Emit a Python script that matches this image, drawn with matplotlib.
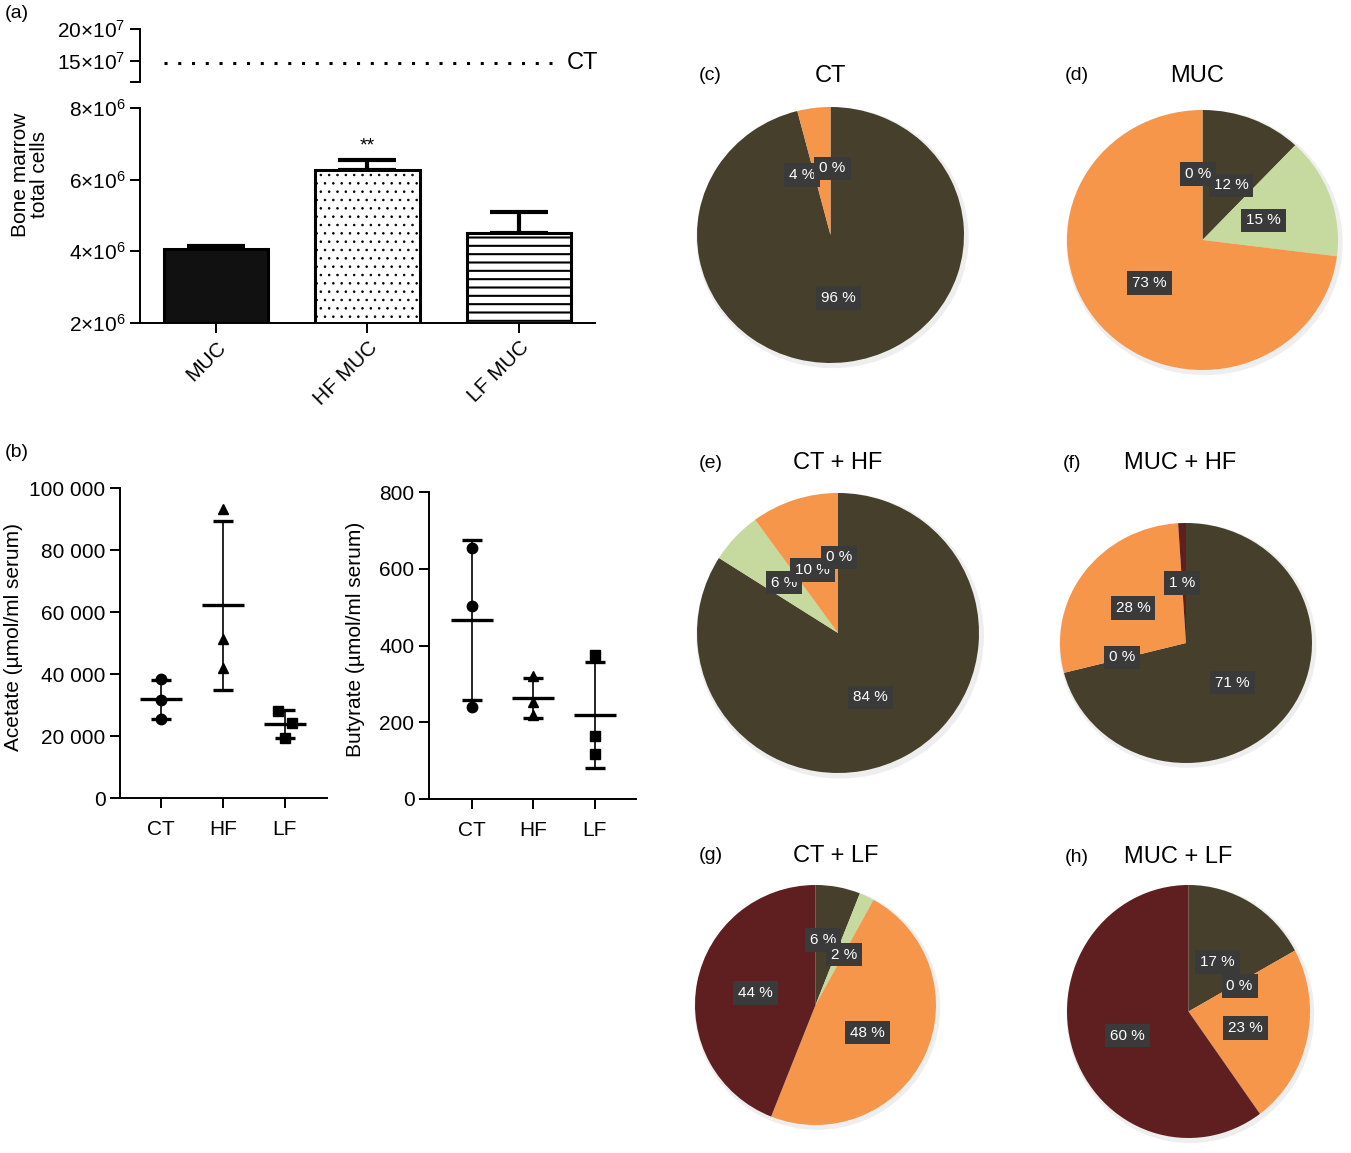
import numpy as np
import matplotlib
matplotlib.use("Agg")
import matplotlib.pyplot as plt
from matplotlib.patches import Ellipse
from matplotlib.ticker import FuncFormatter
from matplotlib.transforms import blended_transform_factory

plt.rcParams['font.family'] = ['Liberation Sans', 'DejaVu Sans']
plt.rcParams['mathtext.fontset'] = 'custom'
plt.rcParams['mathtext.rm'] = 'Liberation Sans'
plt.rcParams['mathtext.it'] = 'Liberation Sans:italic'
plt.rcParams['hatch.linewidth'] = 1.2

# ---- (a) bone marrow total cells ----
bm_groups = ['MUC', 'HF MUC', 'LF MUC']
bm_mean = [4.07e6, 6.28e6, 4.51e6]
bm_err = [0.09e6, 0.28e6, 0.59e6]
ct_level = 14.7e7

# ---- (b) serum SCFA, three animals per group ----
scfa_groups = ['CT', 'HF', 'LF']
acetate_ct = [38300, 31650, 25640]
acetate_hf = [93100, 51300, 42060]
acetate_lf = [28200, 24140, 19200]
butyrate_ct = [654, 502, 241]
butyrate_hf = [320, 252, 219]
butyrate_lf = [375, 165, 116]

# ---- (c)-(h) pies, four fractions each ----
pie_colors = ['#463f2b', '#c6d99e', '#f5964b', '#5f1f20']
pie_letters = ['(c)', '(d)', '(e)', '(f)', '(g)', '(h)']
pie_titles = ['CT', 'MUC', 'CT + HF', 'MUC + HF', 'CT + LF', 'MUC + LF']
pie_ct = [96, 0, 4, 0]
pie_muc = [12, 15, 73, 0]
pie_ct_hf = [84, 6, 10, 0]
pie_muc_hf = [71, 0, 28, 1]
pie_ct_lf = [6, 2, 48, 44]
pie_muc_lf = [17, 0, 23, 60]

W, H = 1351, 1153
fig = plt.figure(figsize=(W / 100, H / 100), dpi=100)


def rect(x0, x1, y0, y1):
    # pixel box -> figure fraction
    return [x0 / W, 1 - y1 / H, (x1 - x0) / W, (y1 - y0) / H]


def style(ax, size=15):
    for s in ['top', 'right']:
        ax.spines[s].set_visible(False)
    for s in ['left', 'bottom']:
        ax.spines[s].set_linewidth(1.4)
    ax.tick_params(direction='out', length=7, width=1.4, labelsize=size)


# ---------------- panel (a) ----------------
ax_top = fig.add_axes(rect(140, 595, 29, 82))
ax_top.set_ylim(11.7e7, 20e7)
ax_top.set_xlim(0, 1)
for s in ['top', 'right', 'bottom']:
    ax_top.spines[s].set_visible(False)
ax_top.spines['left'].set_linewidth(1.4)
ax_top.set_xticks([])
ax_top.set_yticks([11.7e7, 15e7, 20e7],
                  ['', r'$15{\times}10^7$', r'$20{\times}10^7$'])
ax_top.tick_params(direction='out', length=7, width=1.4, labelsize=15)
ax_top.axhline(ct_level, xmin=0.053, xmax=0.905, color='k', lw=2.2,
               linestyle=(0, (1, 3.5)))
tr = blended_transform_factory(ax_top.transAxes, ax_top.transData)
ax_top.text(0.938, ct_level, 'CT', transform=tr, fontsize=17,
            ha='left', va='center')

ax_bar = fig.add_axes(rect(140, 595, 108, 323))
style(ax_bar, 15)
x = np.arange(len(bm_groups))
ax_bar.errorbar(x, bm_mean, yerr=[np.zeros(3), bm_err], fmt='none',
                ecolor='k', elinewidth=3, capsize=21, capthick=3, zorder=1)
bars = ax_bar.bar(x, bm_mean, width=0.686, bottom=0, edgecolor='k',
                  linewidth=2.2, zorder=2)
bars[0].set_facecolor('#111111')
bars[1].set_facecolor('white')
bars[1].set_hatch('..')
bars[2].set_facecolor('white')
bars[2].set_hatch('--')
if hasattr(bars[1], 'set_hatch_linewidth'):
    bars[1].set_hatch_linewidth(0.6)
    bars[2].set_hatch_linewidth(1.5)
ax_bar.set_ylim(2e6, 8e6)
ax_bar.set_xlim(-0.5, 2.5)
ax_bar.set_yticks([2e6, 4e6, 6e6, 8e6],
                  [r'$2{\times}10^6$', r'$4{\times}10^6$', r'$6{\times}10^6$',
                   r'$8{\times}10^6$'])
ax_bar.set_xticks(x, bm_groups, rotation=45, ha='right',
                  rotation_mode='anchor', fontsize=15)
ax_bar.text(x[1], bm_mean[1] + bm_err[1] + 0.38e6, '**', ha='center',
            va='center', fontsize=14)
ax_bar.set_ylabel('Bone marrow\ntotal cells', fontsize=15, linespacing=1.0)
ax_bar.yaxis.set_label_coords(-0.2, 0.69)

fig.text(5 / W, 1 - 13 / H, '(a)', fontsize=14, va='center')
fig.text(5 / W, 1 - 453 / H, '(b)', fontsize=14, va='center')

# ---------------- panel (b) ----------------
markers = ['o', '^', 's']


def scatter_panel(ax, groups, jitter):
    xs = np.arange(len(groups))
    for i, vals in enumerate(groups):
        vals = np.asarray(vals, dtype=float)
        m, sd = vals.mean(), vals.std(ddof=1)
        ax.errorbar(xs[i], m, yerr=sd, fmt='_', color='k', markersize=30,
                    mew=2.4, elinewidth=1.2, capsize=7, capthick=1.2,
                    zorder=2)
        ax.plot(xs[i] + np.asarray(jitter[i]), vals, linestyle='none',
                marker=markers[i], color='k', markersize=7.5, zorder=3)
    ax.set_xticks(xs, scfa_groups)
    ax.tick_params(axis='x', pad=9)


ax_ac = fig.add_axes(rect(120, 327, 488, 798))
style(ax_ac)
scatter_panel(ax_ac, [acetate_ct, acetate_hf, acetate_lf],
              [[0, 0, 0], [0, 0, 0], [-0.107, 0.114, 0]])
ax_ac.set_xlim(-0.66, 2.68)
ax_ac.set_ylim(0, 100000)
ax_ac.set_yticks(np.arange(0, 100001, 20000))
ax_ac.yaxis.set_major_formatter(
    FuncFormatter(lambda v, p: f"{int(v):,}".replace(',', ' ')))
ax_ac.set_ylabel('Acetate (µmol/ml serum)', fontsize=15)
ax_ac.yaxis.set_label_coords(-0.47, 0.52)

ax_bu = fig.add_axes(rect(429, 636, 492, 799))
style(ax_bu)
scatter_panel(ax_bu, [butyrate_ct, butyrate_hf, butyrate_lf],
              [[0, 0, 0], [0, 0, 0], [0, 0, 0]])
ax_bu.set_xlim(-0.70, 2.67)
ax_bu.set_ylim(0, 800)
ax_bu.set_yticks(np.arange(0, 801, 200))
ax_bu.set_ylabel('Butyrate (µmol/ml serum)', fontsize=15)
ax_bu.yaxis.set_label_coords(-0.31, 0.52)

# ---------------- pies (c)-(h) ----------------
pie_values = [pie_ct, pie_muc, pie_ct_hf, pie_muc_hf, pie_ct_lf, pie_muc_lf]
pie_boxes = [(697, 964, 107, 363), (1067, 1338, 110, 370),
             (697, 979, 493, 773), (1060, 1312, 523, 763),
             (695, 936, 885, 1125), (1067, 1310, 885, 1138)]
# label spots, in pie-radius units (None = no label); later ones sit on top
pie_label_pos = [
    [(0.06, -0.49), None, (-0.21, 0.47), (0.015, 0.52)],
    [(0.21, 0.42), (0.45, 0.15), (-0.39, -0.33), (-0.03, 0.51)],
    [(0.23, -0.46), (-0.38, 0.36), (-0.18, 0.45), (0.01, 0.54)],
    [(0.37, -0.33), (-0.51, -0.12), (-0.42, 0.29), (-0.03, 0.50)],
    [(0.06, 0.54), (0.24, 0.42), (0.43, -0.23), (-0.50, 0.10)],
    [(0.24, 0.39), (0.42, 0.20), (0.47, -0.13), (-0.50, -0.19)],
]
letter_pos = [(699, 76), (1065, 76), (699, 463), (1063, 463),
              (699, 856), (1065, 857)]
title_pos = [(830, 76), (1197, 76), (838, 463), (1180, 463),
             (836, 856), (1178, 857)]

for vals, box, lpos, letter, title, lp, tp in zip(
        pie_values, pie_boxes, pie_label_pos, pie_letters, pie_titles,
        letter_pos, title_pos):
    ax = fig.add_axes(rect(*box))
    ax.add_patch(Ellipse((0.015, -0.02), 2.04, 2.04, fc='#eeeeee',
                         ec='none', zorder=0, clip_on=False))
    ax.pie(vals, colors=pie_colors, startangle=90, counterclock=False,
           radius=1, wedgeprops=dict(linewidth=0))
    ax.set_xlim(-1, 1)
    ax.set_ylim(-1, 1)
    ax.set_aspect('auto')
    ax.axis('off')
    for v, pos in zip(vals, lpos):
        if pos is None:
            continue
        ax.text(pos[0], pos[1], f'{v} %', ha='center', va='center',
                color='white', fontsize=11, zorder=5,
                bbox=dict(boxstyle='square,pad=0.32', fc='#3a3a3a',
                          ec='none'))
    fig.text(lp[0] / W, 1 - lp[1] / H, letter, fontsize=14, va='center')
    fig.text(tp[0] / W, 1 - tp[1] / H, title, fontsize=17, va='center',
             ha='center')

fig.savefig('out.png', dpi=100, facecolor='white')
